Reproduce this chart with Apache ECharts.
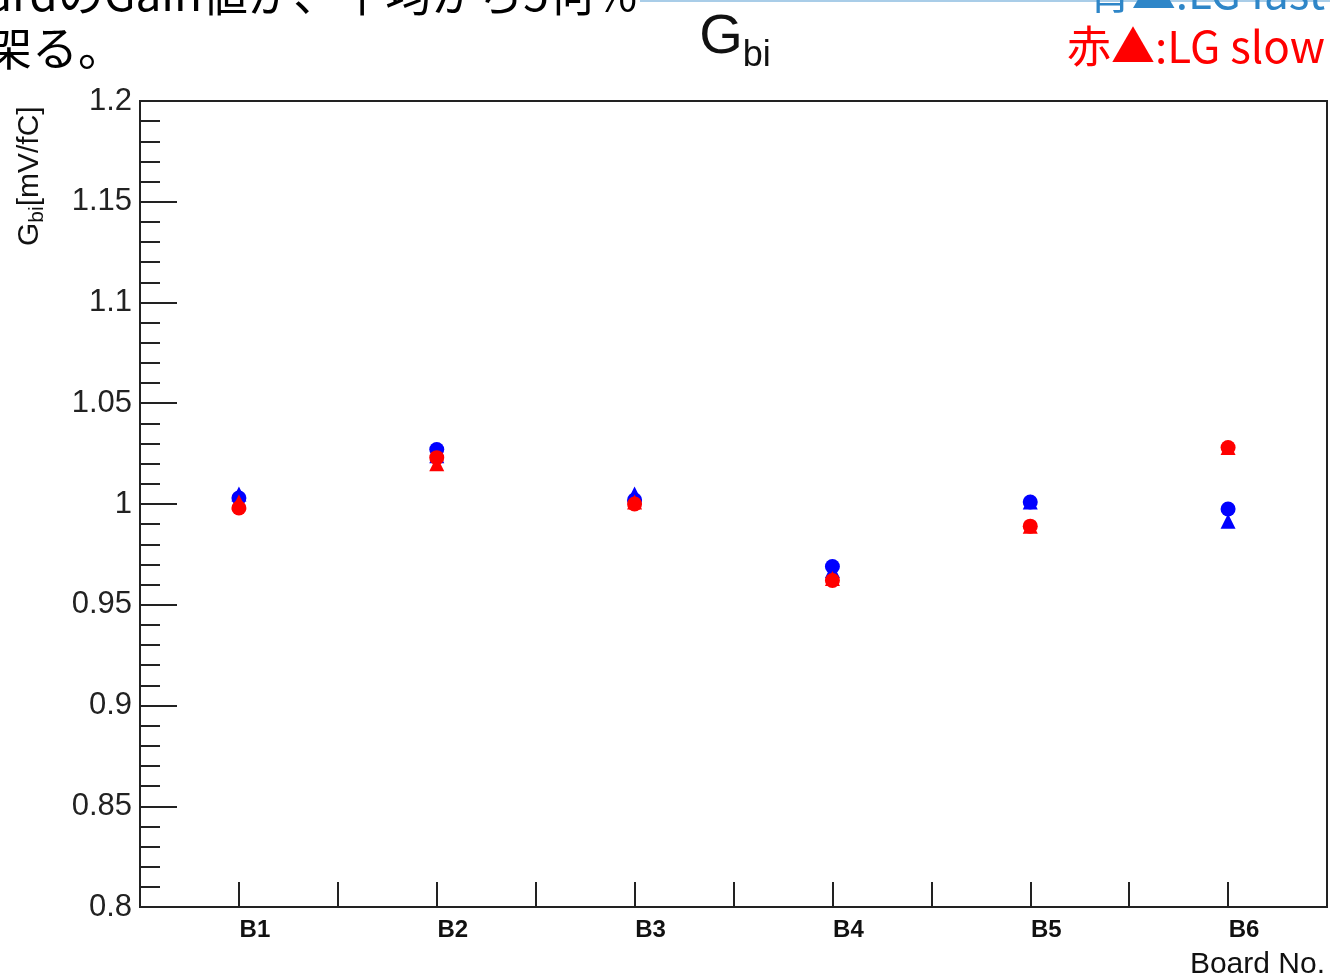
<!DOCTYPE html>
<html>
<head>
<meta charset="utf-8">
<script src="https://cdn.jsdelivr.net/npm/echarts@6/dist/echarts.min.js"></script>
<style>
  html, body { margin: 0; padding: 0; background: #fff; }
  #chart { width: 1330px; height: 978px; }
</style>
</head>
<body>
<div id="chart"></div>
<script>
// boards on the x axis
const categories = ['B1', 'B2', 'B3', 'B4', 'B5', 'B6'];
// G_bi [mV/fC]
const blueTriangle = [1.005, 1.024, 1.005, 0.967, 1.001, 0.9915];
const blueCircle   = [1.003, 1.027, 1.002, 0.969, 1.001, 0.9975];
const redTriangle  = [1.001, 1.020, 1.001, 0.963, 0.989, 1.028];
const redCircle    = [0.998, 1.023, 1.000, 0.962, 0.989, 1.028];

const yTicks = { min: 0.8, max: 1.2, interval: 0.05 };

const font = '"Liberation Sans", Arial, sans-serif';
const jpFont = '"Noto Sans CJK JP", sans-serif';

const toPoints = (vals) => vals.map((v, i) => [i + 0.5, v]);

const chart = echarts.init(document.getElementById('chart'));

const option = {
  backgroundColor: '#fff',
  animation: false,
  grid: { left: 140, right: 3, top: 101, bottom: 71, show: true, borderColor: '#222', borderWidth: 2, backgroundColor: 'transparent' },
  xAxis: {
    type: 'value', min: 0, max: categories.length, interval: 0.5,
    axisLine: { show: true, lineStyle: { color: '#222', width: 2 } },
    axisTick: { show: true, inside: true, length: 25, lineStyle: { color: '#222', width: 2 } },
    splitLine: { show: false },
    axisLabel: {
      show: true, margin: 11, fontFamily: font, fontSize: 24, fontWeight: 'bold', color: '#111',
      padding: [0, 0, 0, 32],
      showMinLabel: true, showMaxLabel: true,
      formatter: (v) => {
        const i = v - 0.5;
        return Number.isInteger(i) && categories[i] ? categories[i] : '';
      }
    }
  },
  yAxis: {
    type: 'value', min: yTicks.min, max: yTicks.max, interval: yTicks.interval,
    axisLine: { show: true, lineStyle: { color: '#222', width: 2 } },
    axisTick: { show: true, inside: true, length: 37, lineStyle: { color: '#222', width: 2 } },
    minorTick: { show: true, splitNumber: 5, length: 20, lineStyle: { color: '#222', width: 2 } },
    splitLine: { show: false },
    axisLabel: { margin: 8, fontFamily: font, fontSize: 31, color: '#222', formatter: (v) => String(Number(v.toFixed(2))) }
  },
  series: [
    { name: 'blue circle', type: 'scatter', data: toPoints(blueCircle), symbol: 'circle', symbolSize: 15, itemStyle: { color: '#0000ff', opacity: 1 } },
    { name: 'LG fast', type: 'scatter', data: toPoints(blueTriangle), symbol: 'triangle', symbolSize: 15, itemStyle: { color: '#0000ff', opacity: 1 } },
    { name: 'red circle', type: 'scatter', data: toPoints(redCircle), symbol: 'circle', symbolSize: 15, itemStyle: { color: '#ff0000', opacity: 1 } },
    { name: 'LG slow', type: 'scatter', data: toPoints(redTriangle), symbol: 'triangle', symbolSize: 15, itemStyle: { color: '#ff0000', opacity: 1 } }
  ],
  graphic: [
    // slide border line at the very top
    { type: 'rect', shape: { x: 640, y: 0, width: 690, height: 2 }, style: { fill: '#a9cde8' } },
    // title G_bi
    { type: 'text', x: 735, y: 74, style: {
        text: '{g|G}{s|bi}', align: 'center', verticalAlign: 'bottom',
        rich: { g: { fontFamily: font, fontSize: 56, fill: '#111', padding: [0, 0, 6, 0] }, s: { fontFamily: font, fontSize: 36, fill: '#111', padding: [30, 0, 0, 0], verticalAlign: 'bottom' } }
      } },
    // y axis name
    { type: 'text', x: 30, y: 246, rotation: Math.PI / 2, style: {
        text: '{g|G}{s|bi}{g|[mV/fC]}', align: 'left', verticalAlign: 'middle',
        rich: { g: { fontFamily: font, fontSize: 30, fill: '#111' }, s: { fontFamily: font, fontSize: 21, fill: '#111', padding: [14, 0, 0, 0] } }
      } },
    // x axis name
    { type: 'text', x: 1325, y: 965, style: { text: 'Board No.', align: 'right', verticalAlign: 'middle', fontFamily: font, fontSize: 30, fill: '#111' } },
    // slide text, top left (cut off)
    { type: 'text', x: -14, y: -6, style: { text: 'ardのGain値が、平均から5何%', align: 'left', verticalAlign: 'middle', fontFamily: jpFont, fontSize: 46, fill: '#000' } },
    { type: 'text', x: -14, y: 48, style: { text: '架る。', align: 'left', verticalAlign: 'middle', fontFamily: jpFont, fontSize: 46, fill: '#000' } },
    // legend notes, top right
    { type: 'text', x: 1325, y: -8, style: { text: '青▲:LG fast', align: 'right', verticalAlign: 'middle', fontFamily: jpFont, fontSize: 44, fill: '#2e86c8' } },
    { type: 'text', x: 1325, y: 46, style: { text: '赤▲:LG slow', align: 'right', verticalAlign: 'middle', fontFamily: jpFont, fontSize: 44, fill: '#ff0000' } }
  ]
};

chart.setOption(option);
</script>
</body>
</html>
